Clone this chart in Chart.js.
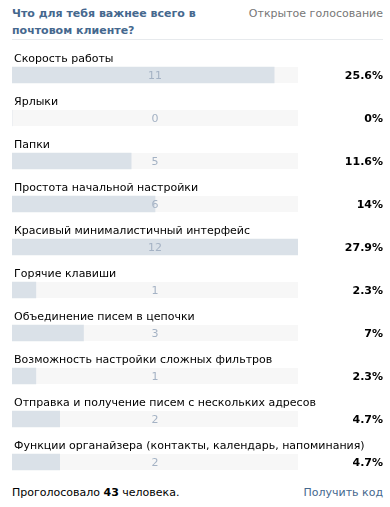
<!DOCTYPE html>
<html>
<head>
<meta charset="utf-8">
<script src="https://cdn.jsdelivr.net/npm/chart.js@4/dist/chart.umd.min.js"></script>
<style>
    body { margin: 0; background: #fff; font-family: "DejaVu Sans", sans-serif; font-size: 11px; }
    #wrap { position: relative; width: 390px; height: 507px; overflow: hidden; }
    #title { position: absolute; left: 12px; top: 5px; width: 230px; font-weight: bold; color: #45688e; line-height: 17px; }
    #type { position: absolute; right: 7px; top: 5px; color: #777; line-height: 17px; }
    #line { position: absolute; left: 12px; top: 39px; width: 371px; height: 1px; background: #e7eaed; }
    #poll { position: absolute; left: 0; top: 53px; }
    #total { position: absolute; left: 12px; top: 484px; color: #000; line-height: 17px; }
    #code { position: absolute; right: 7px; top: 484px; color: #45688e; line-height: 17px; }
</style>
</head>
<body>
<div id="wrap">
    <div id="title">Что для тебя важнее всего в почтовом клиенте?</div>
    <div id="type">Открытое голосование</div>
    <div id="line"></div>
    <canvas id="poll" width="390" height="431"></canvas>
    <div id="total">Проголосовало <b>43</b> человека.</div>
    <div id="code">Получить код</div>
</div>
<script>
// варианты ответа
const answers = [
    'Скорость работы',
    'Ярлыки',
    'Папки',
    'Простота начальной настройки',
    'Красивый минималистичный интерфейс',
    'Горячие клавиши',
    'Объединение писем в цепочки',
    'Возможность настройки сложных фильтров',
    'Отправка и получение писем с нескольких адресов',
    'Функции органайзера (контакты, календарь, напоминания)'
];
// голоса
const votes = [11, 0, 5, 6, 12, 1, 3, 1, 2, 2];
// проценты как на картинке
const percents = ['25.6%', '0%', '11.6%', '14%', '27.9%', '2.3%', '7%', '2.3%', '4.7%', '4.7%'];
const maxVotes = 12;

// серая подложка под каждой полосой + подписи
const pollText = {
    id: 'pollText',
    beforeDatasetsDraw(chart) {
        const ctx = chart.ctx;
        const x = chart.scales.x;
        const y = chart.scales.y;
        ctx.save();
        ctx.fillStyle = '#f7f7f7';
        answers.forEach((a, i) => {
            const cy = y.getPixelForValue(i);
            ctx.fillRect(x.getPixelForValue(0), cy - 8, x.getPixelForValue(maxVotes) - x.getPixelForValue(0), 16);
        });
        ctx.restore();
    },
    afterDatasetsDraw(chart) {
        const ctx = chart.ctx;
        const x = chart.scales.x;
        const y = chart.scales.y;
        const mid = (x.getPixelForValue(0) + x.getPixelForValue(maxVotes)) / 2;
        ctx.save();
        ctx.textBaseline = 'middle';
        answers.forEach((a, i) => {
            const cy = y.getPixelForValue(i);
            ctx.font = '11px "DejaVu Sans"';
            ctx.fillStyle = '#000';
            ctx.textAlign = 'left';
            ctx.fillText(a, 14, cy - 16);
            ctx.fillStyle = '#a4b2c4';
            ctx.textAlign = 'center';
            ctx.fillText(String(votes[i]), mid, cy + 1);
            ctx.font = 'bold 11px "DejaVu Sans"';
            ctx.fillStyle = '#000';
            ctx.textAlign = 'right';
            ctx.fillText(percents[i], 383, cy + 1);
        });
        ctx.restore();
    }
};

const ctx = document.getElementById('poll').getContext('2d');
new Chart(ctx, {
    type: 'bar',
    data: {
        labels: answers,
        datasets: [{
            data: votes,
            backgroundColor: '#dae1e8',
            borderWidth: 0,
            barThickness: 16
        }]
    },
    options: {
        indexAxis: 'y',
        responsive: false,
        animation: false,
        layout: { padding: { left: 12, right: 92, top: 0.5, bottom: 0.5 } },
        plugins: {
            legend: { display: false },
            tooltip: { enabled: false }
        },
        scales: {
            x: { display: false, min: 0, max: maxVotes },
            y: { display: false }
        }
    },
    plugins: [pollText]
});
</script>
</body>
</html>
